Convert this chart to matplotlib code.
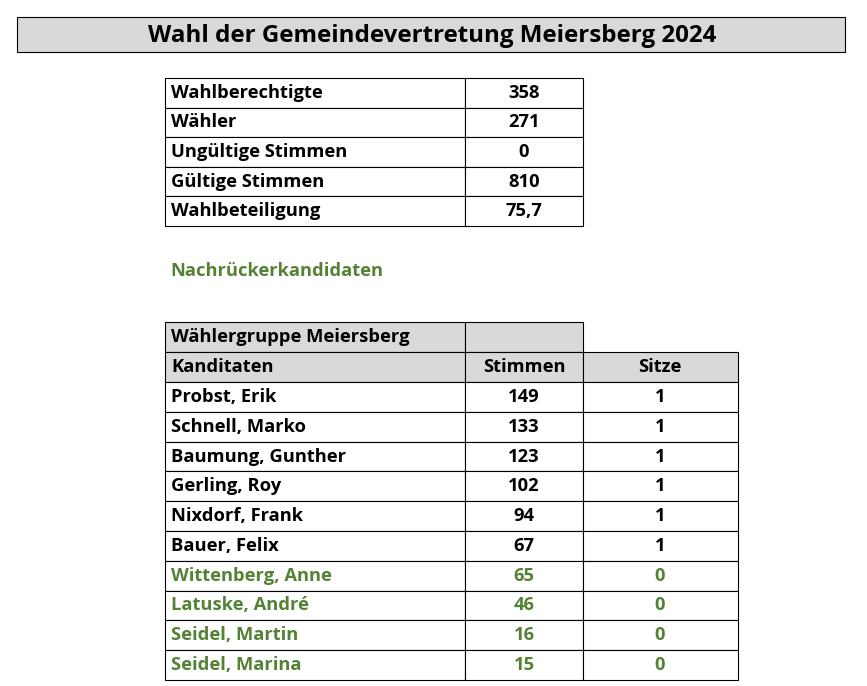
import matplotlib.pyplot as plt
from matplotlib.patches import Rectangle

title = "Wahl der Gemeindevertretung Meiersberg 2024"
summary_labels = ["Wahlberechtigte", "Wähler", "Ungültige Stimmen", "Gültige Stimmen", "Wahlbeteiligung"]
summary_values = ["358", "271", "0", "810", "75,7"]
note = "Nachrückerkandidaten"
group_name = "Wählergruppe Meiersberg"
header = ["Kanditaten", "Stimmen", "Sitze"]
candidates = ["Probst, Erik", "Schnell, Marko", "Baumung, Gunther", "Gerling, Roy", "Nixdorf, Frank",
              "Bauer, Felix", "Wittenberg, Anne", "Latuske, André", "Seidel, Martin", "Seidel, Marina"]
votes = [149, 133, 123, 102, 94, 67, 65, 46, 16, 15]
seats = [1, 1, 1, 1, 1, 1, 0, 0, 0, 0]

W, H = 867, 686
fig = plt.figure(figsize=(W / 100, H / 100), dpi=100)
ax = fig.add_axes([0, 0, 1, 1])
ax.set_xlim(0, W)
ax.set_ylim(H, 0)
ax.axis("off")

FONT = "Open Sans"
FS = 13.2
GREEN = "#548235"
GRAY = "#d9d9d9"

def cell(x0, x1, y0, y1, fill="white"):
    ax.add_patch(Rectangle((x0, y0), x1 - x0, y1 - y0, facecolor=fill, edgecolor="black", lw=0.8))

# title
cell(17, 845, 17, 52, GRAY)
ax.text(432, 35.5, title, ha="center", va="center", fontsize=17.4, fontweight="bold", family=FONT)

# summary table
rh = 29.6
y = 78
for lab, val in zip(summary_labels, summary_values):
    cell(165, 465, y, y + rh)
    cell(465, 583, y, y + rh)
    ax.text(171, y + rh / 2, lab, ha="left", va="center", fontsize=FS, fontweight="bold", family=FONT)
    ax.text(524, y + rh / 2, val, ha="center", va="center", fontsize=FS, fontweight="bold", family=FONT)
    y += rh

ax.text(170, 271, note, ha="left", va="center", fontsize=FS, fontweight="bold", family=FONT, color=GREEN)

# results table
y = 322
cell(165, 465, y, y + 30, GRAY)
cell(465, 583, y, y + 30, GRAY)
ax.text(171, y + 15, group_name, ha="left", va="center", fontsize=FS, fontweight="bold", family=FONT)
y = 352
cell(165, 465, y, y + 30, GRAY)
cell(465, 583, y, y + 30, GRAY)
cell(583, 738, y, y + 30, GRAY)
ax.text(171, y + 15, header[0], ha="left", va="center", fontsize=FS, fontweight="bold", family=FONT)
ax.text(524, y + 15, header[1], ha="center", va="center", fontsize=FS, fontweight="bold", family=FONT)
ax.text(660, y + 15, header[2], ha="center", va="center", fontsize=FS, fontweight="bold", family=FONT)
y = 382
rh = (680 - 382) / len(candidates)
for name, v, s in zip(candidates, votes, seats):
    col = "black" if s > 0 else GREEN
    cell(165, 465, y, y + rh)
    cell(465, 583, y, y + rh)
    cell(583, 738, y, y + rh)
    ax.text(171, y + rh / 2, name, ha="left", va="center", fontsize=FS, fontweight="bold", family=FONT, color=col)
    ax.text(524, y + rh / 2, str(v), ha="center", va="center", fontsize=FS, fontweight="bold", family=FONT, color=col)
    ax.text(660, y + rh / 2, str(s), ha="center", va="center", fontsize=FS, fontweight="bold", family=FONT, color=col)
    y += rh

fig.savefig("out.png", dpi=100)
